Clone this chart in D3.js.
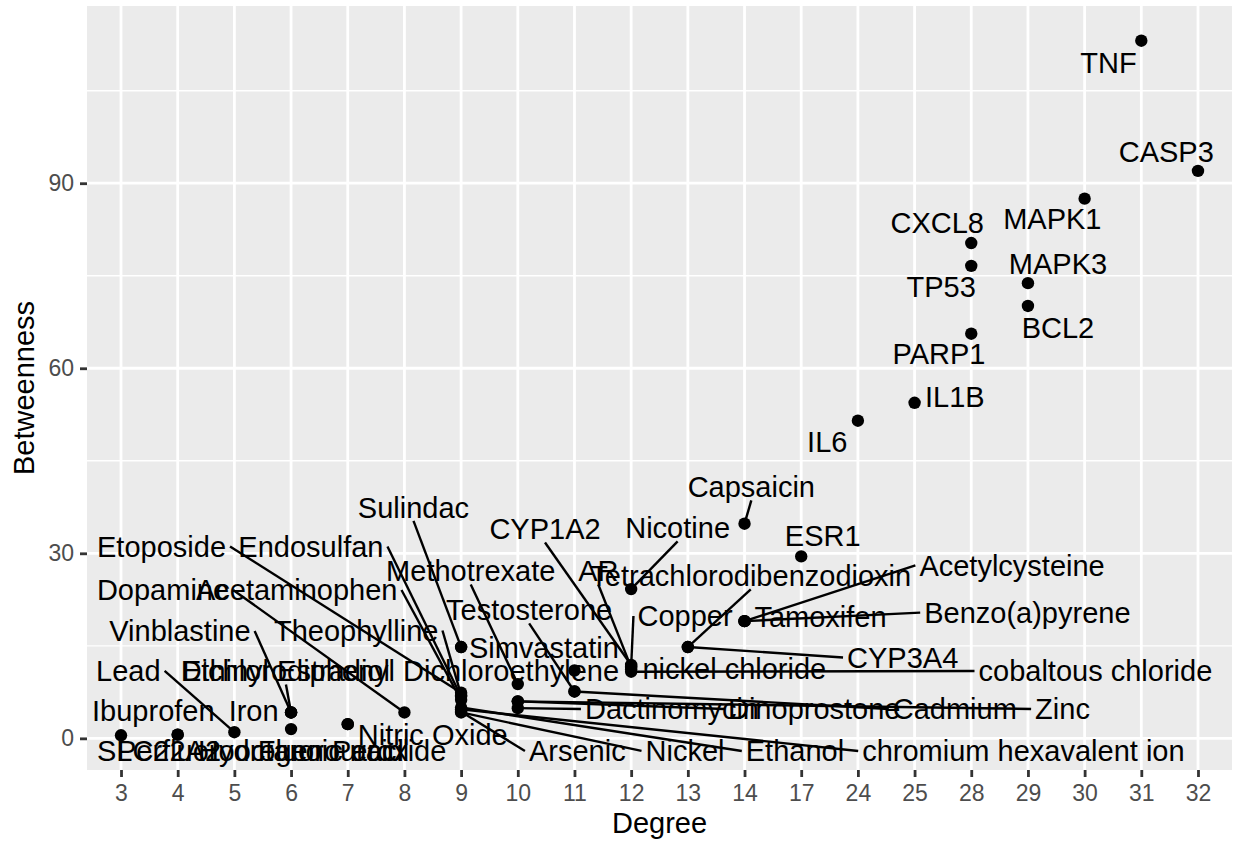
<!DOCTYPE html>
<html>
<head>
<meta charset="utf-8">
<script src="https://cdn.jsdelivr.net/npm/d3@7"></script>
<style>
  body { margin: 0; background: #ffffff; }
  svg { display: block; }
  text { font-family: "Liberation Sans", Arial, Helvetica, sans-serif; }
</style>
</head>
<body>
<svg id="chart" width="1235" height="845"></svg>
<script>
// Degree is shown as a discrete axis, one slot per observed degree
const degreeLevels = ["3","4","5","6","7","8","9","10","11","12","13","14","17","24","25","28","29","30","31","32"];

const nodeNames = [
  "TNF","CASP3","MAPK1","CXCL8","MAPK3","TP53","BCL2","PARP1","IL1B","IL6",
  "Capsaicin","Nicotine","ESR1","CYP1A2","Sulindac","Etoposide","Endosulfan","Methotrexate","AR",
  "Tetrachlorodibenzodioxin","Acetylcysteine","Dopamine","Acetaminophen","Testosterone","Copper",
  "Tamoxifen","Benzo(a)pyrene","Vinblastine","Theophylline","Simvastatin","CYP3A4","Lead",
  "Ethinyl Estradiol","Dichlorodiphenyl Dichloroethylene","nickel chloride","cobaltous chloride",
  "Ibuprofen","Iron","Dactinomycin","Dinoprostone","Cadmium","Zinc","Nitric Oxide","SLC22A2",
  "Perfluorooctanoic acid","Fluorouracil","Hydrogen Peroxide","Arsenic","Nickel","Ethanol",
  "chromium hexavalent ion"
];

const nodeDegree = [
  31,32,30,28,29,28,29,28,25,24,
  14,12,17,12,9,9,9,10,12,
  13,14,8,9,11,12,
  14,14,6,9,9,13,5,
  6,11,12,12,
  4,6,10,10,11,10,7,3,
  4,6,7,9,9,9,
  9
];

const nodeBetweenness = [
  113.1,92.0,87.5,80.3,73.8,76.6,70.1,65.6,54.4,51.5,
  34.8,24.2,29.5,11.9,14.8,7.4,6.8,8.8,11.5,
  14.8,19.0,4.2,6.2,7.6,11.7,
  19.0,19.0,4.2,7.0,14.8,14.8,1.0,
  4.2,11.0,11.2,10.8,
  0.6,4.2,4.9,6.0,7.6,6.0,2.3,0.5,
  0.6,1.5,2.3,4.3,4.2,5.0,
  4.7
];

const yTicks = [0, 30, 60, 90];
const yMinorTicks = [15, 45, 75, 105];

// Repelled label centres in axis units: [slot position along Degree, Betweenness]
const labelSpots = [
  [17.42,109.6],[18.44,95.15],[16.43,84.29],[14.40,83.64],[16.53,76.91],[14.47,73.18],[16.53,66.54],[14.43,62.32],[14.71,55.43],[12.46,48.05],
  [11.12,40.76],[9.82,34.11],[12.38,32.81],[7.48,33.95],[5.16,37.44],[0.715,31.11],[3.35,31.11],[6.17,27.14],[8.42,27.14],
  [11.11,26.33],[15.72,28.03],[0.741,24.06],[3.10,24.06],[7.20,20.82],[9.95,19.84],
  [12.34,19.68],[15.99,20.38],[1.04,17.41],[4.15,17.49],[7.46,14.66],[13.79,13.12],[0.13,10.93],
  [2.91,10.93],[4.92,10.93],[10.82,11.25],[17.19,10.93],
  [0.57,4.54],[2.34,4.54],[9.72,4.77],[12.23,4.77],[14.71,4.77],[16.61,4.77],[5.50,0.55],[0.67,-2.04],
  [2.46,-2.04],[3.75,-2.04],[3.55,-2.04],[8.05,-2.04],[9.95,-2.04],[11.89,-2.04],
  [15.92,-2.04]
];

const W = 1235, H = 845;
const margin = { top: 6, right: 3, bottom: 75, left: 87 };
const panel = { x0: margin.left, x1: W - margin.right, y0: margin.top, y1: H - margin.bottom };

const svg = d3.select("#chart");

const x = d3.scalePoint()
  .domain(degreeLevels)
  .range([panel.x0, panel.x1])
  .padding(0.6);
const slotX = p => x(degreeLevels[0]) + p * x.step();

const [yMin, yMax] = d3.extent(nodeBetweenness);
const ySpan = yMax - yMin;
const y = d3.scaleLinear()
  .domain([yMin - 0.05 * ySpan, yMax + 0.05 * ySpan])
  .range([panel.y1, panel.y0]);

const nodes = nodeNames.map((name, i) => ({
  name,
  degree: String(nodeDegree[i]),
  value: nodeBetweenness[i],
  spot: labelSpots[i]
}));

// Panel background and grid
svg.append("rect")
  .attr("x", panel.x0).attr("y", panel.y0)
  .attr("width", panel.x1 - panel.x0).attr("height", panel.y1 - panel.y0)
  .attr("fill", "#EBEBEB");

const grid = svg.append("g");
grid.selectAll("line.minor").data(yMinorTicks).join("line")
  .attr("x1", panel.x0).attr("x2", panel.x1)
  .attr("y1", d => y(d)).attr("y2", d => y(d))
  .attr("stroke", "#ffffff").attr("stroke-width", 1.4);
grid.selectAll("line.majorY").data(yTicks).join("line")
  .attr("x1", panel.x0).attr("x2", panel.x1)
  .attr("y1", d => y(d)).attr("y2", d => y(d))
  .attr("stroke", "#ffffff").attr("stroke-width", 2.8);
grid.selectAll("line.majorX").data(degreeLevels).join("line")
  .attr("x1", d => x(d)).attr("x2", d => x(d))
  .attr("y1", panel.y0).attr("y2", panel.y1)
  .attr("stroke", "#ffffff").attr("stroke-width", 2.8);

// Axes
const fontStack = '"Liberation Sans", Arial, Helvetica, sans-serif';
const gy = svg.append("g")
  .attr("transform", `translate(${panel.x0},0)`)
  .call(d3.axisLeft(y).tickValues(yTicks).tickSize(7).tickPadding(6));
const gx = svg.append("g")
  .attr("transform", `translate(0,${panel.y1})`)
  .call(d3.axisBottom(x).tickSize(7).tickPadding(8));
[gx, gy].forEach(g => {
  g.attr("font-size", 23).attr("font-family", fontStack);
  g.select(".domain").remove();
  g.selectAll(".tick line").attr("stroke", "#333333").attr("stroke-width", 2.8);
  g.selectAll(".tick text").attr("fill", "#4D4D4D");
});

// Axis titles
svg.append("text")
  .attr("x", (panel.x0 + panel.x1) / 2).attr("y", 833)
  .attr("text-anchor", "middle")
  .attr("font-size", 29).attr("fill", "#000")
  .text("Degree");
svg.append("text")
  .attr("transform", `translate(34,${(panel.y0 + panel.y1) / 2}) rotate(-90)`)
  .attr("text-anchor", "middle")
  .attr("font-size", 29).attr("fill", "#000")
  .text("Betweenness");

// Points
svg.append("g").selectAll("circle").data(nodes).join("circle")
  .attr("cx", d => x(d.degree))
  .attr("cy", d => y(d.value))
  .attr("r", 6.2)
  .attr("fill", "#000");

// Labels with connector segments
const segLayer = svg.append("g");
const textLayer = svg.append("g");
const labelSize = 29;
const padX = 4, halfH = 13.5, minSegment = 18;
const pw = panel.x1 - panel.x0, ph = panel.y1 - panel.y0;

nodes.forEach(d => {
  const cx = slotX(d.spot[0]);
  const cy = y(d.spot[1]);
  const t = textLayer.append("text")
    .attr("x", cx).attr("y", cy)
    .attr("dy", "0.36em")
    .attr("text-anchor", "middle")
    .attr("font-size", labelSize)
    .attr("fill", "#000")
    .text(d.name);
  const w = t.node().getComputedTextLength();
  const box = { l: cx - w / 2 - padX, r: cx + w / 2 + padX, t: cy - halfH, b: cy + halfH };
  const px = x(d.degree), py = y(d.value);

  // distance from the point to the label box
  const ddx = Math.max(box.l - px, 0, px - box.r);
  const ddy = Math.max(box.t - py, 0, py - box.b);
  if (Math.hypot(ddx, ddy) <= minSegment) return;

  // connect from the closest side midpoint, measured in panel-relative units
  const mids = [
    [cx, box.t], [cx, box.b], [box.l, cy], [box.r, cy]
  ];
  let best = mids[0], bestD = Infinity;
  mids.forEach(m => {
    const dd = Math.hypot((m[0] - px) / pw, (m[1] - py) / ph);
    if (dd < bestD) { bestD = dd; best = m; }
  });
  segLayer.append("line")
    .attr("x1", best[0]).attr("y1", best[1])
    .attr("x2", px).attr("y2", py)
    .attr("stroke", "#000").attr("stroke-width", 2.4);
});
</script>
</body>
</html>
